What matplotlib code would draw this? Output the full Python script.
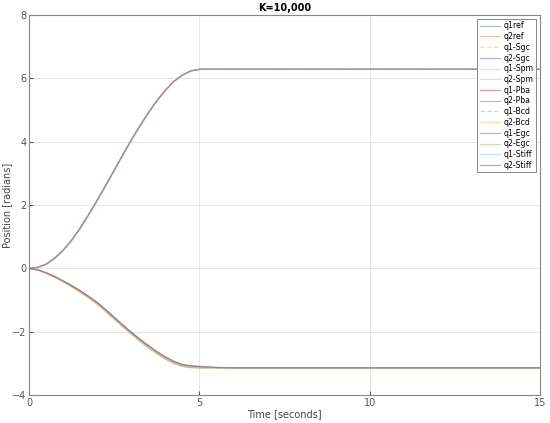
import matplotlib
matplotlib.use('Agg')
import matplotlib.pyplot as plt

# tiempos y trayectorias
t = [0, 0.25, 0.5, 0.75, 1, 1.25, 1.5, 1.75, 2, 2.25, 2.5, 2.75, 3, 3.25, 3.5,
     3.75, 4, 4.25, 4.5, 4.75, 5, 5.5, 6, 7, 8, 9, 10, 11, 12, 13, 14, 15]

q1 = [0, 0.03, 0.13, 0.32, 0.57, 0.89, 1.27, 1.70, 2.15, 2.62, 3.10, 3.58,
      4.05, 4.49, 4.91, 5.29, 5.62, 5.90, 6.10, 6.23, 6.28, 6.28, 6.28, 6.28,
      6.28, 6.28, 6.28, 6.28, 6.28, 6.28, 6.28, 6.28]

q2 = [0, -0.05, -0.14, -0.26, -0.40, -0.55, -0.71, -0.89, -1.08, -1.31, -1.55,
      -1.79, -2.02, -2.24, -2.44, -2.63, -2.80, -2.94, -3.04, -3.08, -3.10,
      -3.13, -3.14, -3.14, -3.14, -3.14, -3.14, -3.14, -3.14, -3.14, -3.14, -3.14]

q2_alt = [0, -0.05, -0.15, -0.28, -0.42, -0.58, -0.75, -0.93, -1.13, -1.36,
          -1.60, -1.84, -2.07, -2.29, -2.50, -2.69, -2.86, -3.00, -3.09, -3.13,
          -3.14, -3.14, -3.14, -3.14, -3.14, -3.14, -3.14, -3.14, -3.14, -3.14,
          -3.14, -3.14]

labels = ['q1ref', 'q2ref', 'q1-Sgc', 'q2-Sgc', 'q1-Spm', 'q2-Spm', 'q1-Pba',
          'q2-Pba', 'q1-Bcd', 'q2-Bcd', 'q1-Egc', 'q2-Egc', 'q1-Stiff', 'q2-Stiff']
series = [q1, q2, q1, q2_alt, q1, q2, q1, q2, q1, q2_alt, q1, q2_alt, q1, q2]
colors = ['#5b8fc4', '#e08a6a', '#ecc86a', '#9b6fa6', '#f2b8c0', '#8fd0ec',
          '#b4505f', '#5b8fc4', '#e8a080', '#ecc86a', '#9b6fa6', '#a8c47a',
          '#8fd0ec', '#b4505f']
styles = ['-', '-', '--', '-', '-', '-', '-', '-', '--', '-', '-', '-', '-', '-']

fig = plt.figure(figsize=(5.5, 4.23), dpi=100)
ax = fig.add_axes([0.053, 0.066, 0.929, 0.899])

for y, lab, c, ls in zip(series, labels, colors, styles):
    ax.plot(t, y, color=c, linestyle=ls, linewidth=0.9, alpha=0.55, label=lab)
# borde rojizo visible sobre la curva q1
ax.plot(t, q1, color='#b4505f', linewidth=0.6, alpha=0.4)

ax.set_xlim(0, 15)
ax.set_ylim(-4, 8)
ax.set_xticks([0, 5, 10, 15])
ax.set_yticks([-4, -2, 0, 2, 4, 6, 8])
ax.grid(True, color='#e6e6e6', linewidth=0.7)
ax.tick_params(direction='in', labelsize=7, colors='#555555', length=3, pad=2)
for s in ax.spines.values():
    s.set_color('#888888')
    s.set_linewidth(0.8)

ax.set_xlabel('Time [seconds]', fontsize=7, color='#444444', labelpad=1)
ax.set_ylabel('Position [radians]', fontsize=7, color='#444444', labelpad=0)
ax.set_title('K=10,000', fontsize=7, fontweight='bold', pad=3)

leg = ax.legend(loc='upper right', fontsize=5.6, handlelength=2.6,
                labelspacing=0.22, borderpad=0.35, fancybox=False,
                framealpha=1, edgecolor='#888888', handletextpad=0.4)
leg.get_frame().set_linewidth(0.7)

fig.savefig('out.png', dpi=100)
